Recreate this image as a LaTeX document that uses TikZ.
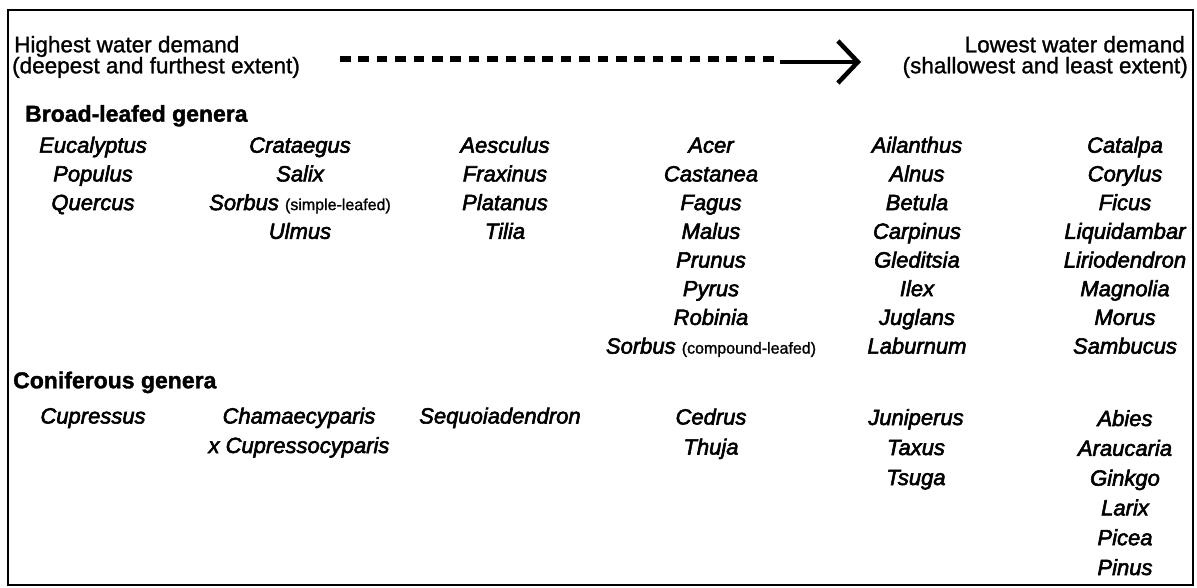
\documentclass[tikz,border=0pt]{standalone}
\usepackage{fontspec}
\setmainfont{Liberation Sans}[UprightFeatures={FakeBold=1.2}, BoldFeatures={FakeBold=1.5}]
\newfontfamily\genfont{Liberation Sans}[ItalicFeatures={FakeBold=2.6}, UprightFeatures={FakeBold=1.2}]
\usetikzlibrary{arrows.meta}

% small upright qualifier after a genus name
\newcommand{\qualtext}[1]{{\fontsize{16}{16}\selectfont\upshape #1}}

\tikzset{
  frame/.style={line width=2.6pt},
  genus/.style={font=\genfont\itshape\fontsize{22}{26}\selectfont, anchor=base, inner sep=0pt},
  grouphead/.style={font=\bfseries\fontsize{23}{27}\selectfont, anchor=base west, inner sep=0pt},
  demandL/.style={font=\fontsize{22.5}{26}\selectfont, anchor=base west, inner sep=0pt},
  demandR/.style={font=\fontsize{22.5}{26}\selectfont, anchor=base east, inner sep=0pt},
  gradient/.style={line width=5.5pt, dash pattern=on 10.5pt off 7.9pt},
  gradarrow/.style={line width=4pt, -{Straight Barb[length=20pt, width=42pt, line width=4.5pt]}}
}

\begin{document}
\begin{tikzpicture}[x=1pt, y=-1pt]
\useasboundingbox (0,0) rectangle (1197,588);
\draw[frame] (8,10) rectangle (1193,585);

% water demand scale
\node[demandL] (hi1) at (14,52.3) {Highest water demand};
\node[demandL] (hi2) at (12,73.3) {(deepest and furthest extent)};
\node[demandR] (lo1) at (1185,52.3) {Lowest water demand};
\node[demandR] (lo2) at (1188,73.3) {(shallowest and least extent)};

\coordinate (ds) at (340,59);
\coordinate (de) at (774,59);
\coordinate (ls) at (780,62);
\coordinate (tip) at (861,62);
\draw[gradient] (ds) -- (de);
\draw[gradarrow] (ls) -- (tip);

% broad-leafed genera
\node[grouphead] (broad) at (25,121.7) {Broad-leafed genera};

\foreach \t [count=\i] in {Eucalyptus, Populus, Quercus}
  \node[genus] (b1-\i) at (93, {152.7+28.7*(\i-1)}) {\t};
\foreach \t [count=\i] in {Crataegus, Salix, {Sorbus \qualtext{(simple-leafed)}}, Ulmus}
  \node[genus] (b2-\i) at (300, {152.7+28.7*(\i-1)}) {\t};
\foreach \t [count=\i] in {Aesculus, Fraxinus, Platanus, Tilia}
  \node[genus] (b3-\i) at (505, {152.7+28.7*(\i-1)}) {\t};
\foreach \t [count=\i] in {Acer, Castanea, Fagus, Malus, Prunus, Pyrus, Robinia, {Sorbus \qualtext{(compound-leafed)}}}
  \node[genus] (b4-\i) at (711, {152.7+28.7*(\i-1)}) {\t};
\foreach \t [count=\i] in {Ailanthus, Alnus, Betula, Carpinus, Gleditsia, Ilex, Juglans, Laburnum}
  \node[genus] (b5-\i) at (917, {152.7+28.7*(\i-1)}) {\t};
\foreach \t [count=\i] in {Catalpa, Corylus, Ficus, Liquidambar, Liriodendron, Magnolia, Morus, Sambucus}
  \node[genus] (b6-\i) at (1125, {152.7+28.7*(\i-1)}) {\t};

% coniferous genera
\node[grouphead] (conif) at (13,388.3) {Coniferous genera};

\node[genus] (c1-1) at (93,423.5) {Cupressus};
\foreach \t [count=\i] in {Chamaecyparis, x Cupressocyparis}
  \node[genus] (c2-\i) at (299, {423.5+29.5*(\i-1)}) {\t};
\node[genus] (c3-1) at (500,423.5) {Sequoiadendron};
\foreach \t [count=\i] in {Cedrus, Thuja}
  \node[genus] (c4-\i) at (711, {424.5+30*(\i-1)}) {\t};
\foreach \t [count=\i] in {Juniperus, Taxus, Tsuga}
  \node[genus] (c5-\i) at (916, {425+30*(\i-1)}) {\t};
\foreach \t [count=\i] in {Abies, Araucaria, Ginkgo, Larix, Picea, Pinus}
  \node[genus] (c6-\i) at (1125, {426+29.8*(\i-1)}) {\t};
\end{tikzpicture}
\end{document}
